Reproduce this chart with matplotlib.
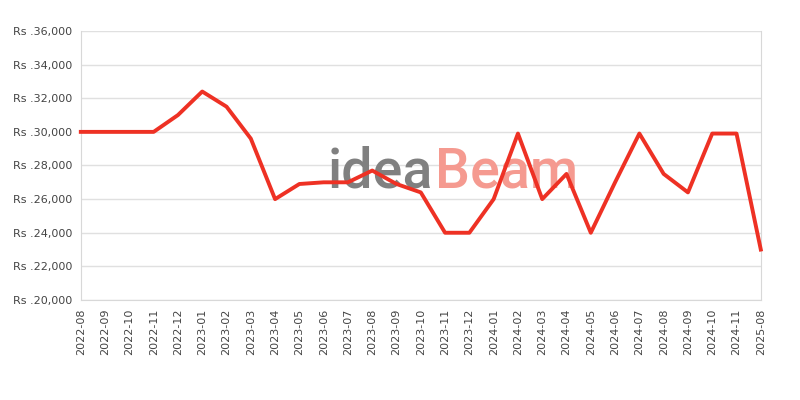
import matplotlib
matplotlib.use('Agg')
import matplotlib.pyplot as plt
from matplotlib.transforms import offset_copy

months = ['2022-08', '2022-09', '2022-10', '2022-11', '2022-12', '2023-01', '2023-02',
          '2023-03', '2023-04', '2023-05', '2023-06', '2023-07', '2023-08', '2023-09',
          '2023-10', '2023-11', '2023-12', '2024-01', '2024-02', '2024-03', '2024-04',
          '2024-05', '2024-06', '2024-07', '2024-08', '2024-09', '2024-10', '2024-11',
          '2025-08']
prices = [30000, 30000, 30000, 30000, 31000, 32400, 31500,
          29600, 26000, 26900, 27000, 27000, 27700, 26900,
          26400, 24000, 24000, 26000, 29900, 26000, 27500,
          24000, 27000, 29900, 27500, 26400, 29900, 29900,
          23000]
yticks = [20000, 22000, 24000, 26000, 28000, 30000, 32000, 34000, 36000]

fig = plt.figure(figsize=(8, 4), dpi=100)
ax = fig.add_axes([0.101, 0.25, 0.85, 0.6725])

# watermark, drawn under the line
t1 = ax.text(0.41, 0.53, 'idea', fontsize=40, family='Roboto', weight='medium', color='#808080',
             ha='left', va='baseline', zorder=1, transform=fig.transFigure)
fig.canvas.draw()
w = t1.get_window_extent().width
ax.text(0.41, 0.53, 'Beam', fontsize=40, family='Roboto', weight='medium', color='#f59a90',
        ha='left', va='baseline', zorder=1,
        transform=offset_copy(fig.transFigure, fig=fig, x=w + 2, y=0, units='dots'))

x = list(range(len(months)))
ax.plot(x, prices, color='#ee3124', linewidth=2.8, zorder=3, clip_on=False)

ax.set_xlim(0, len(months) - 1)
ax.set_ylim(20000, 36000)
ax.set_xticks(x)
ax.set_xticklabels(months, rotation=90)
ax.set_yticks(yticks)
ax.set_yticklabels(['Rs .{:,}'.format(v) for v in yticks])
ax.tick_params(length=0, labelsize=8, colors='#444444', pad=6)
ax.grid(axis='y', color='#e0e0e0', linewidth=1)
ax.set_axisbelow(True)
for s in ['left', 'bottom', 'right']:
    ax.spines[s].set_color('#d8d8d8')
ax.spines['top'].set_visible(False)
ax.patch.set_alpha(0)

fig.savefig('out.png', dpi=100)
